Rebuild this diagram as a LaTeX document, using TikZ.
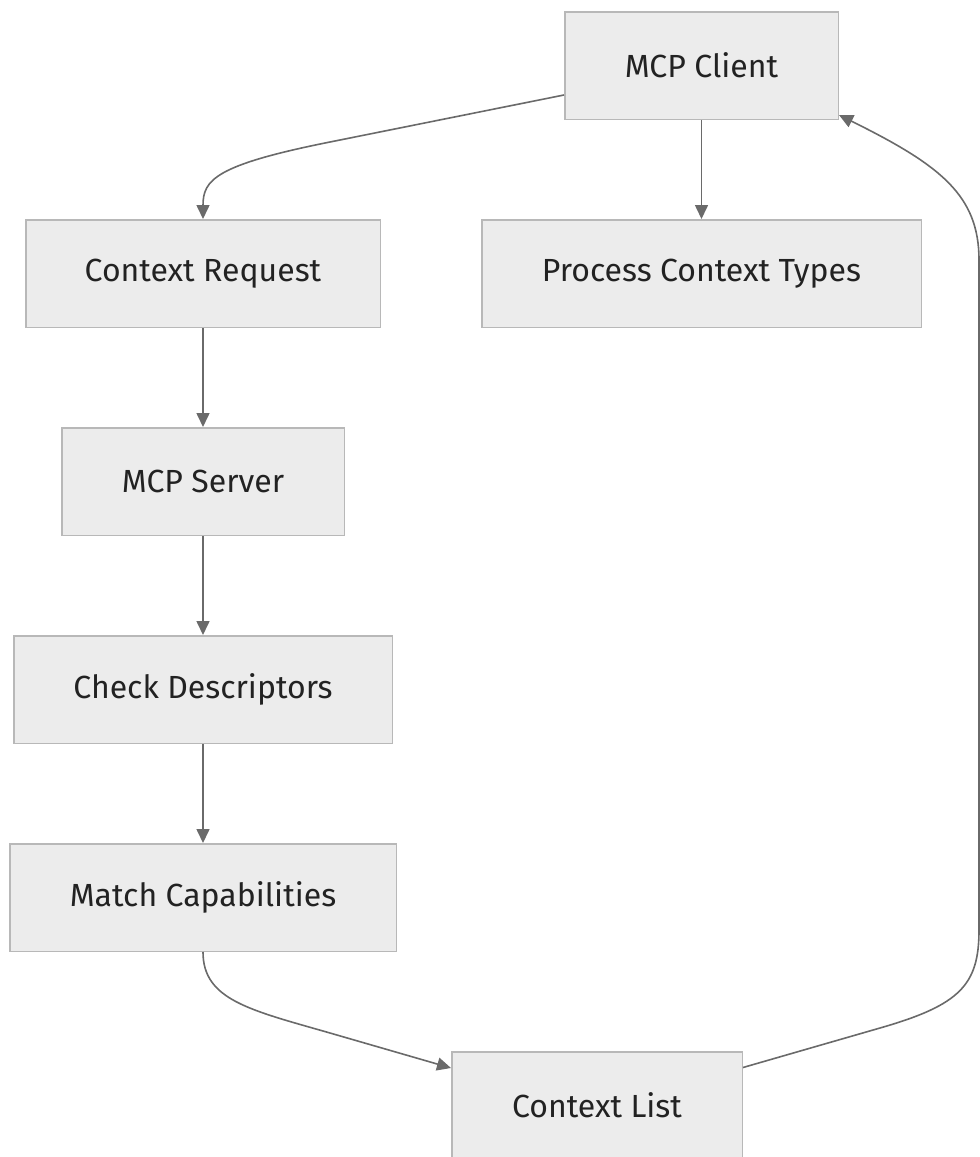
\documentclass[tikz,border=0pt]{standalone}
\usepackage{fontspec}
\setmainfont{Fira Sans}
\usetikzlibrary{arrows.meta}
\definecolor{boxfill}{HTML}{ECECEC}
\definecolor{boxline}{HTML}{B8B8B8}
\definecolor{edge}{HTML}{6A6A6A}
\definecolor{txt}{HTML}{222222}
\begin{document}
\begin{tikzpicture}[x=1pt,y=-1pt,
  box/.style={draw=boxline, fill=boxfill, line width=1.5pt, minimum height=107.5pt,
    inner sep=0pt, font=\fontsize{32}{37}\selectfont, text=txt},
  flow/.style={draw=edge, line width=1.6pt, -{Triangle[length=14pt,width=13pt]}}]
\useasboundingbox (0,0) rectangle (980,1157);
\clip (0,0) rectangle (980,1157);

% process steps
\node[box, minimum width=273.5pt] (client) at (701.5,65.5)  {MCP Client};
\node[box, minimum width=354.5pt] (req)    at (203,273.5)   {Context Request};
\node[box, minimum width=439.5pt] (proc)   at (701.5,273.5) {Process Context Types};
\node[box, minimum width=282.5pt] (server) at (203,481.5)   {MCP Server};
\node[box, minimum width=378.5pt] (check)  at (203,689.5)   {Check Descriptors};
\node[box, minimum width=386.5pt] (match)  at (203,897.5)   {Match Capabilities};
\node[box, minimum width=290.5pt] (list)   at (597,1105.5)  {Context List};

% straight links
\draw[flow] (client) -- (proc);
\draw[flow] (req) -- (server);
\draw[flow] (server) -- (check);
\draw[flow] (check) -- (match);

% curved links
\draw[flow] ([yshift=-29.5pt]client.west) -- (330,142)
  .. controls (215,165) and (203,180) .. (req.north);
\draw[flow] (match.south) .. controls (203,1000) and (250,1010) .. (330,1033)
  -- ([yshift=37.5pt]list.west);
\draw[flow] ([yshift=38pt]list.east) -- (880,1028)
  .. controls (960,1005) and (979,985) .. (979,930)
  -- (979,260)
  .. controls (979,195) and (940,165) .. ([yshift=-49.5pt]client.east);
\end{tikzpicture}
\end{document}
